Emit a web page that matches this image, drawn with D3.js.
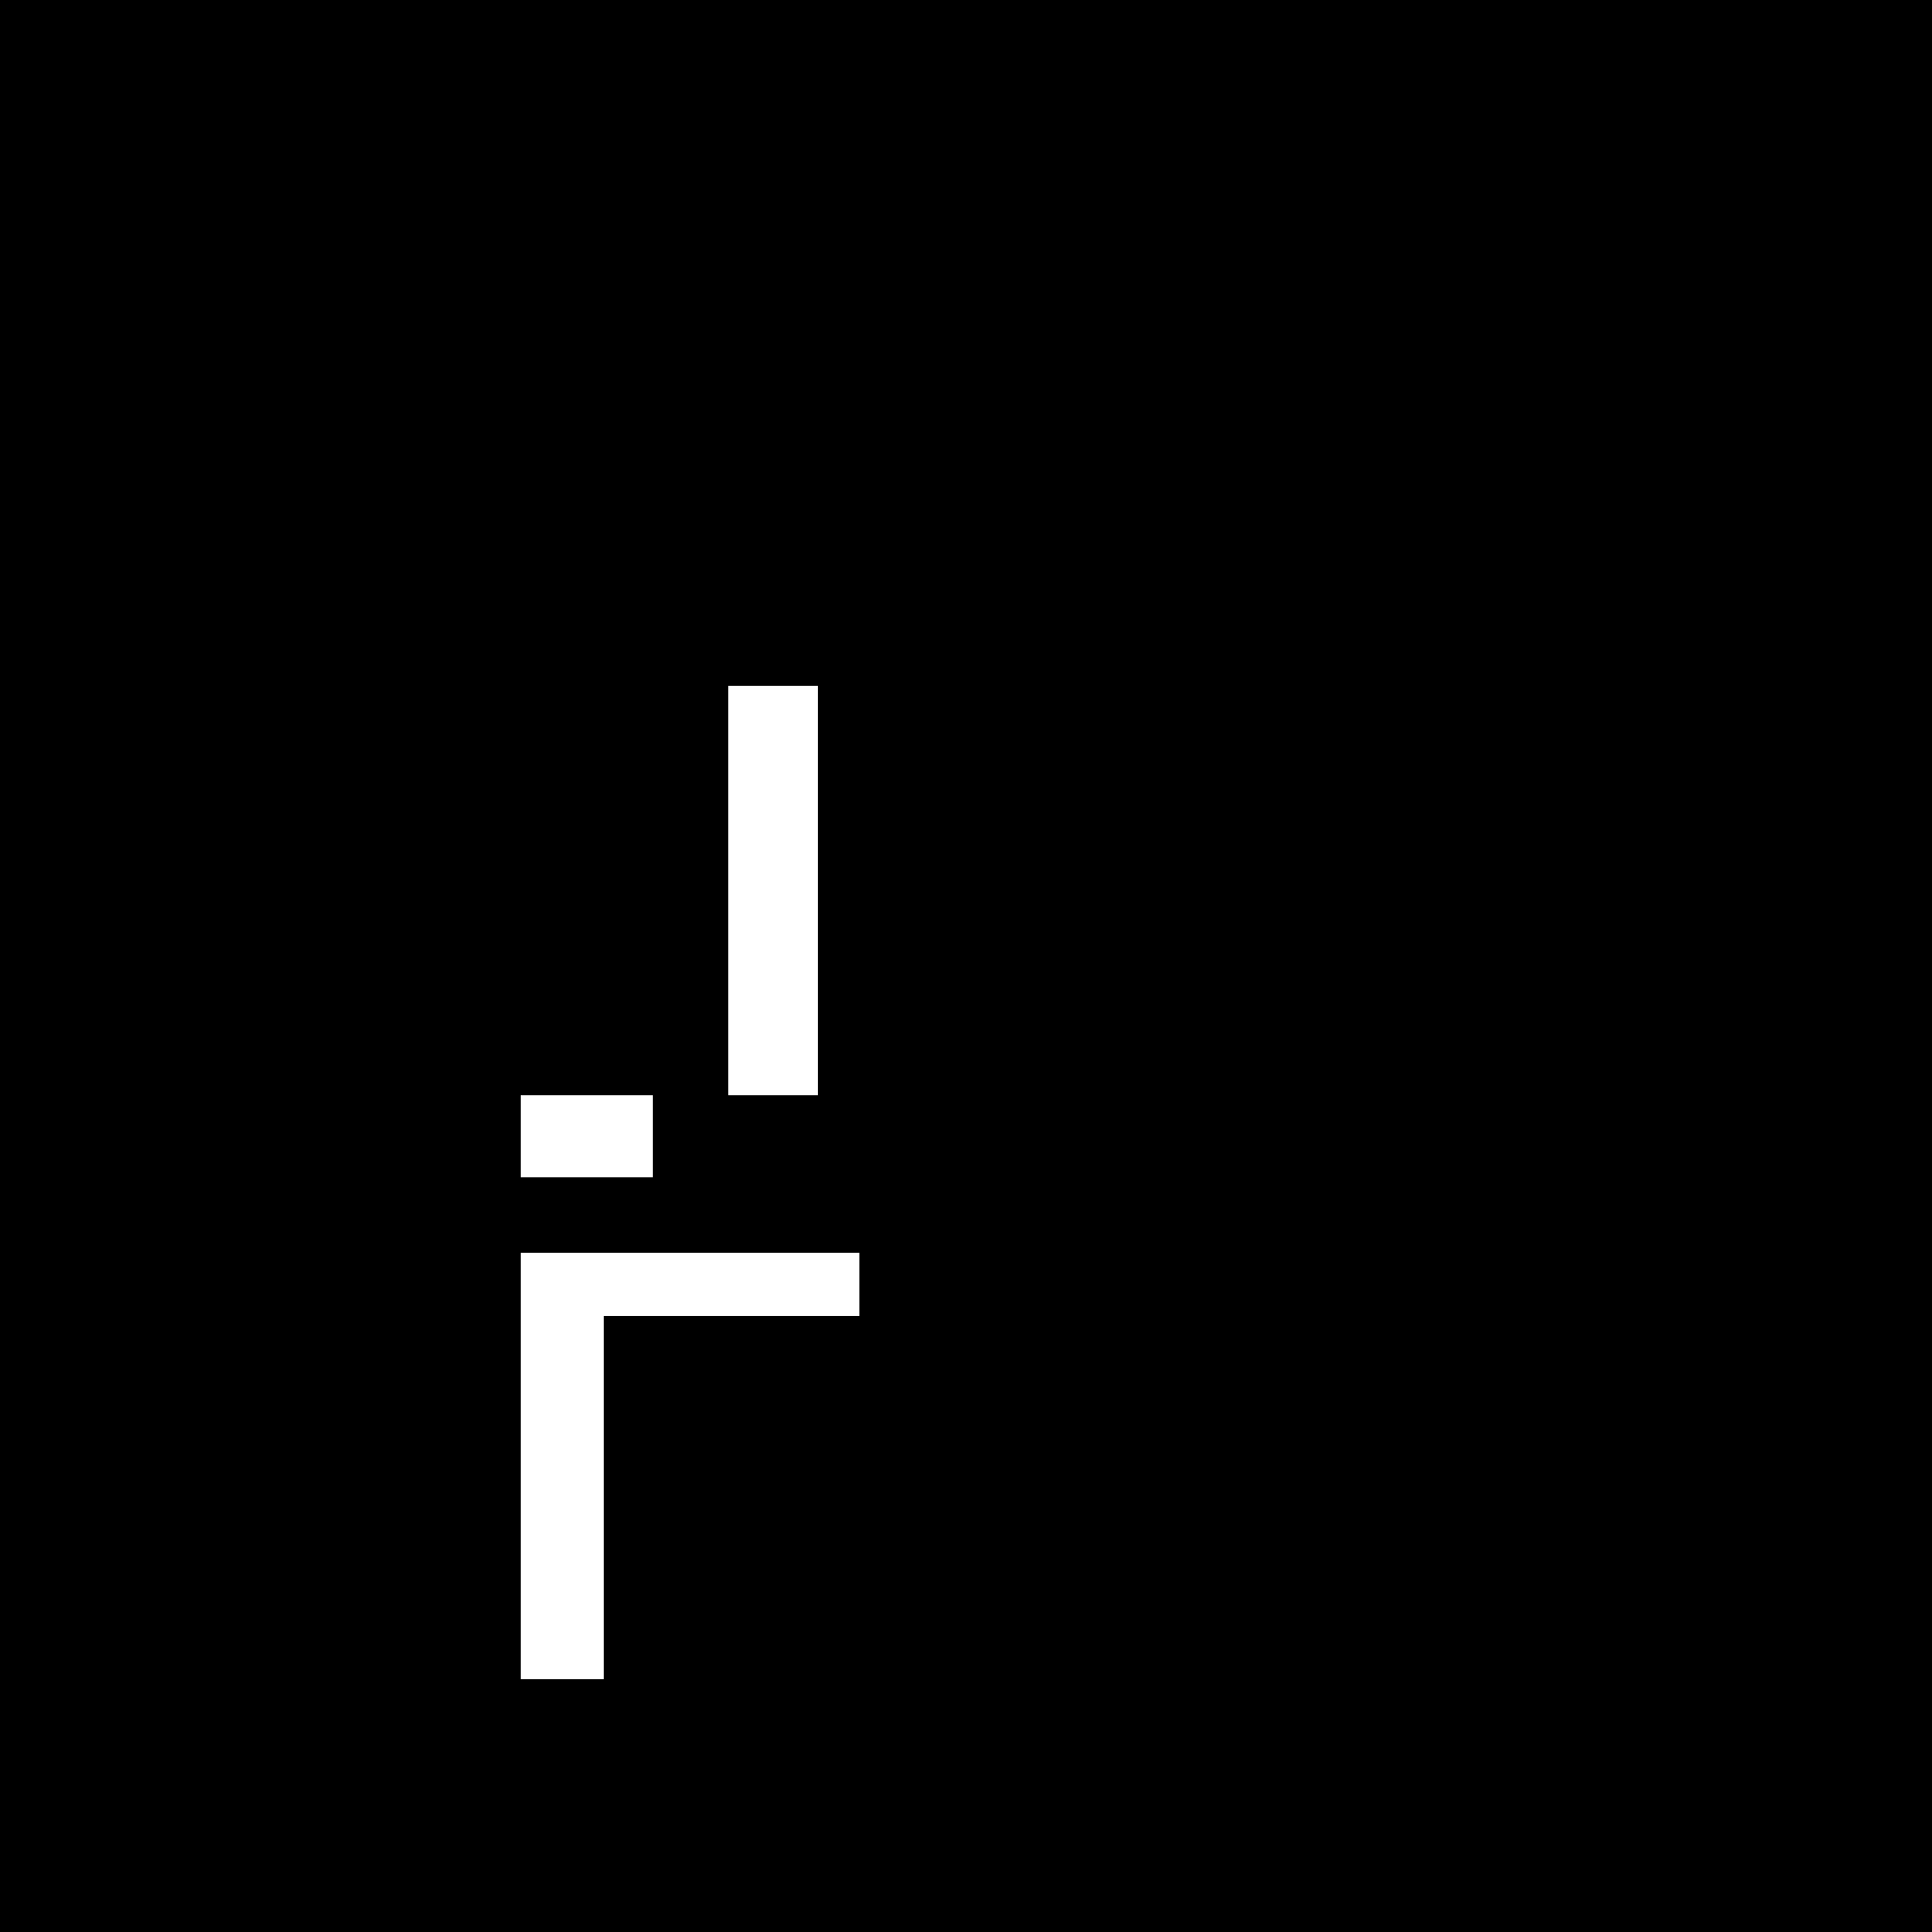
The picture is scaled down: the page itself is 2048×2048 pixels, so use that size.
<!DOCTYPE html>
<html>
<head>
<meta charset="utf-8">
<script src="https://cdn.jsdelivr.net/npm/d3@7"></script>
<style>
    html, body { margin: 0; padding: 0; background: #000; }
</style>
</head>
<body>
<div id="chart"></div>
<script>
// Block edges, in percent of the canvas (0-100 on both axes)
var blockNames = ["column", "stub", "bar", "post"];
var blockLeft = [37.70, 26.95, 26.95, 26.95];
var blockRight = [42.33, 33.79, 44.48, 31.25];
var blockTop = [35.50, 56.67, 64.84, 64.84];
var blockBottom = [56.67, 60.94, 68.12, 86.91];

var svgWidth = 2048;
var svgHeight = 2048;

var blocks = blockNames.map(function (name, i) {
    return {
        name: name,
        x0: blockLeft[i],
        x1: blockRight[i],
        y0: blockTop[i],
        y1: blockBottom[i]
    };
});

var svg = d3.select("#chart")
    .append("svg")
    .attr("width", svgWidth)
    .attr("height", svgHeight)
    .style("display", "block");

svg.append("rect")
    .attr("width", svgWidth)
    .attr("height", svgHeight)
    .attr("fill", "#000");

// Scales
var xScale = d3.scaleLinear()
    .domain([0, 100])
    .range([0, svgWidth]);

var yScale = d3.scaleLinear()
    .domain([0, 100])
    .range([0, svgHeight]);

svg.append("g")
    .selectAll("rect")
    .data(blocks)
    .enter()
    .append("rect")
    .attr("class", d => "block " + d.name)
    .attr("x", d => xScale(d.x0))
    .attr("y", d => yScale(d.y0))
    .attr("width", d => xScale(d.x1) - xScale(d.x0))
    .attr("height", d => yScale(d.y1) - yScale(d.y0))
    .attr("fill", "#fff")
    .attr("shape-rendering", "crispEdges");
</script>
</body>
</html>
